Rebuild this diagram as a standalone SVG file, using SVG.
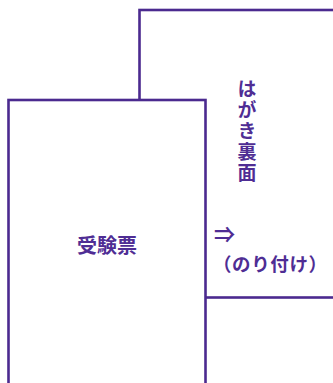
<svg xmlns="http://www.w3.org/2000/svg" width="333" height="383" viewBox="0 0 333 383">
<style>
.box{fill:#fff;stroke:#4b2a8f;stroke-width:2.6}
.t{fill:#4f2d94;font-family:"Noto Sans CJK JP","Noto Sans",sans-serif;font-weight:bold}
</style>
<rect width="333" height="383" fill="#fff"/>
<g id="back">
<rect class="box" x="139.5" y="10" width="220" height="287.5"/>
<text class="t" x="247" y="79" font-size="19" style="writing-mode:vertical-rl;text-orientation:upright" letter-spacing="2">はがき裏面</text>
<text class="t" x="214" y="242" font-size="21" font-weight="normal">⇒</text>
<text class="t" x="213" y="271" font-size="18.5" font-weight="normal" letter-spacing="0.6">（のり付け）</text>
</g>
<g id="front">
<rect class="box" x="8.5" y="100" width="197" height="300"/>
<text class="t" x="107" y="253" font-size="20" text-anchor="middle">受験票</text>
</g>
<g id="connectors"/>
</svg>
